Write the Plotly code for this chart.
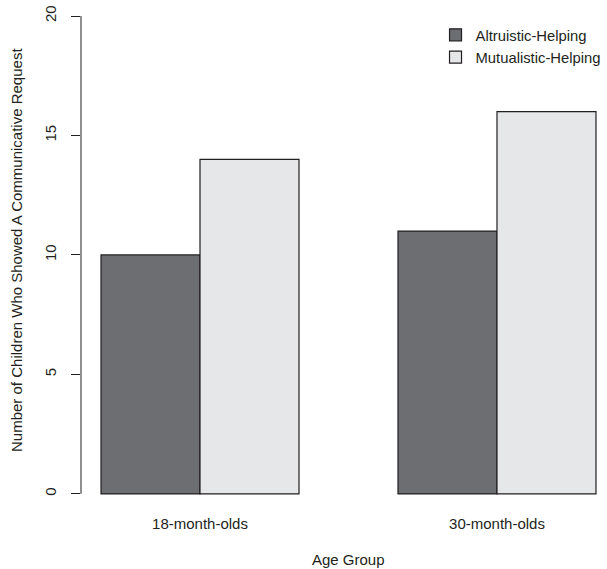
import plotly.graph_objects as go

categories = ["18-month-olds", "30-month-olds"]
altruistic = [10, 11]
mutualistic = [14, 16]
series_names = ["Altruistic-Helping", "Mutualistic-Helping"]
y_ticks = [0, 5, 10, 15, 20]

dark = "#6d6e71"
light = "#e6e7e8"
edge = "#231f20"
txt = "#231f20"
font_family = "Liberation Sans, Arial, sans-serif"
fs = 15

fig = go.Figure()
fig.add_trace(go.Bar(x=categories, y=altruistic, name=series_names[0],
                     marker=dict(color=dark, line=dict(color=edge, width=1.2))))
fig.add_trace(go.Bar(x=categories, y=mutualistic, name=series_names[1],
                     marker=dict(color=light, line=dict(color=edge, width=1.2))))

# y axis line spanning only the tick range (R style)
fig.add_shape(type="line", xref="paper", yref="y", x0=0, x1=0,
              y0=min(y_ticks), y1=max(y_ticks), line=dict(color=edge, width=1))

# axis titles
fig.add_annotation(text="Age Group", xref="x", yref="paper", x=0.5, y=0,
                   yshift=-46, yanchor="middle", showarrow=False,
                   font=dict(size=fs, color=txt, family=font_family))
fig.add_annotation(text="Number of Children Who Showed A Communicative Request",
                   xref="paper", yref="paper", x=0, y=0.5127, xshift=-64,
                   xanchor="center", yanchor="middle", textangle=-90, showarrow=False,
                   font=dict(size=fs, color=txt, family=font_family))

fig.update_layout(
    width=607, height=569,
    margin=dict(l=81, r=0, t=0, b=56, autoexpand=False),
    paper_bgcolor="white", plot_bgcolor="white",
    barmode="group", bargap=1/3, bargroupgap=0,
    font=dict(family=font_family, size=fs, color=txt),
    showlegend=True,
    legend=dict(x=0.674, y=0.9635, xanchor="left", yanchor="top",
                bgcolor="rgba(0,0,0,0)", font=dict(size=14.8, color=txt),
                tracegroupgap=0, itemwidth=30),
    xaxis=dict(range=[-0.4007, 1.3704], showline=False, showgrid=False,
               zeroline=False, ticks="", automargin=False,
               tickfont=dict(size=fs, color=txt)),
    yaxis=dict(range=[-0.8, 20.67], tickvals=y_ticks, ticktext=[str(v) for v in y_ticks],
               showline=False, showgrid=False, zeroline=False, automargin=False,
               ticks="outside", ticklen=9, tickcolor=edge, tickwidth=1,
               tickangle=-90, ticklabelstandoff=9, ticklabeloverflow="allow",
               tickfont=dict(size=fs, color=txt)),
)

fig.write_html("out.html", config={"displayModeBar": False},
               post_script="document.body.style.margin='0';document.body.style.overflow='hidden';")
